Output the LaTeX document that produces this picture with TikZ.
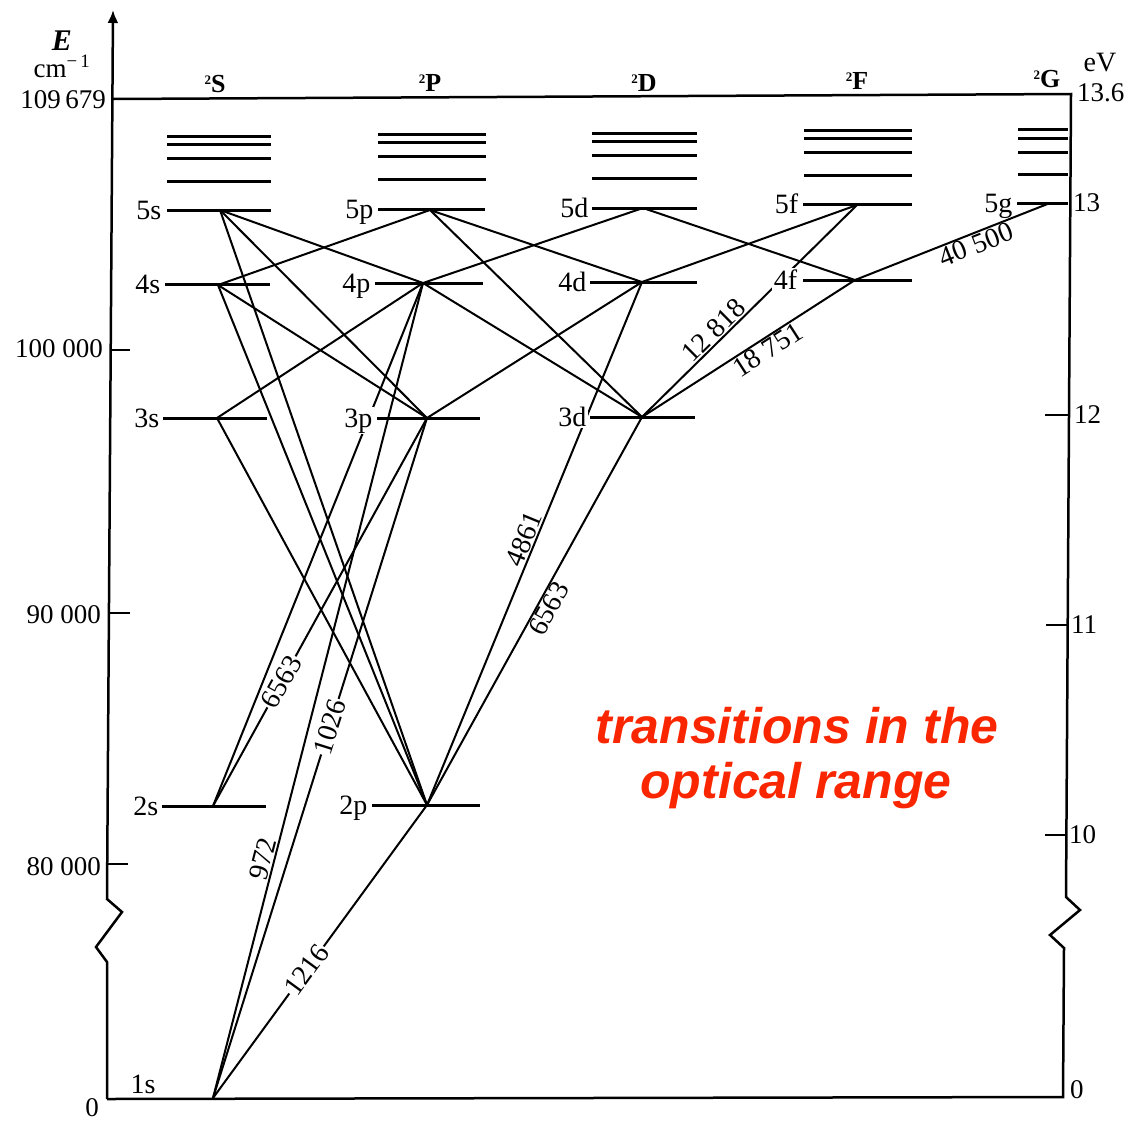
\documentclass[tikz,border=0pt]{standalone}
\usepackage{fontspec}
\setmainfont{Liberation Serif}
\newfontfamily\redfont{Liberation Sans}
\usetikzlibrary{arrows.meta}
\definecolor{redtxt}{RGB}{250,38,0}
\begin{document}
\begin{tikzpicture}[x=1pt,y=-1pt,
  lev/.style={line width=3pt},
  tr/.style={line width=2pt},
  ax/.style={line width=2.5pt, line join=miter},
  tick/.style={line width=2pt},
  lvlab/.style={anchor=base east, font=\fontsize{28}{28}\selectfont, inner sep=1.5pt},
  lvlabw/.style={lvlab, fill=white},
  num/.style={font=\fontsize{27}{27}\selectfont, inner sep=0pt},
  wl/.style={font=\fontsize{28}{28}\selectfont, sloped, inner sep=1pt},
  wlw/.style={wl, fill=white},
  term/.style={anchor=base, font=\bfseries\fontsize{26}{26}\selectfont, inner sep=0pt},
  redlab/.style={anchor=base, font=\redfont\bfseries\itshape\fontsize{50}{50}\selectfont, text=redtxt, inner sep=0pt}
]
\useasboundingbox (0,0) rectangle (1129,1122);
\newcommand{\tsup}{\raisebox{0.62ex}{\fontsize{13}{13}\selectfont 2}}

% ---------- axes and frame ----------
\coordinate (axtop) at (113,10);
\coordinate (axbl) at (107,1099);
\draw[ax,-{Latex[length=13pt,width=11pt]}] (axbl) -- (107,962) -- (96,947) -- (122,912) -- (107,899) -- (axtop);
\draw[ax] (113,99) -- (1071,94) -- (1066,897) -- (1080,910) -- (1050,935) -- (1064,948) -- (1063,1097) -- (axbl);

% left ticks
\draw[tick] (110.7,350) -- (130,350);
\draw[tick] (109,613) -- (130,613);
\draw[tick] (107.6,864) -- (128,864);
% right ticks
\draw[tick] (1045,415) -- (1068,415);
\draw[tick] (1046,625) -- (1067,625);
\draw[tick] (1045,835) -- (1066,835);

% axis labels
\node[anchor=base, font=\bfseries\itshape\fontsize{30}{30}\selectfont, inner sep=0pt] (Elab) at (62,50) {E};
\node[anchor=base, font=\fontsize{27}{27}\selectfont, inner sep=0pt] (cmlab) at (62,77) {cm\textsuperscript{−\,1}};
\node[num, anchor=east] (n109) at (106,100) {109\,679};
\node[num, anchor=east] (n100) at (103,349) {100 000};
\node[num, anchor=east] (n90) at (101,615) {90 000};
\node[num, anchor=east] (n80) at (101,867) {80 000};
\node[num] (n0) at (92,1108) {0};
\node[anchor=base, font=\fontsize{28}{28}\selectfont, inner sep=0pt] (eV) at (1100,71) {eV};
\node[num, anchor=west] (r136) at (1077,93) {13.6};
\node[num, anchor=west] (r13) at (1073,203) {13};
\node[num, anchor=west] (r12) at (1074,415) {12};
\node[num, anchor=west] (r11) at (1071,625) {11};
\node[num, anchor=west] (r10) at (1069,835) {10};
\node[num, anchor=west] (r0) at (1070,1090) {0};

% term labels
\node[term] (tS) at (215,92) {\tsup S};
\node[term] (tP) at (430,91) {\tsup P};
\node[term] (tD) at (644,91) {\tsup D};
\node[term] (tF) at (857,89) {\tsup F};
\node[term] (tG) at (1047,87) {\tsup G};

% ---------- upper (unlabelled) levels ----------
\foreach \y in {136,144,158,181} \draw[lev] (167,\y) -- (271,\y);
\foreach \y in {134,142,156,179} \draw[lev] (378,\y) -- (486,\y);
\foreach \y in {133,141,155,178} \draw[lev] (592,\y) -- (697,\y);
\foreach \y in {130,138,152,175} \draw[lev] (804,\y) -- (912,\y);
\foreach \y in {129,138,152,174} \draw[lev] (1018,\y) -- (1068,\y);

% ---------- labelled levels ----------
\draw[lev] (167,210) -- (271,210);
\draw[lev] (165,284) -- (270,284);
\draw[lev] (163,418) -- (267,418);
\draw[lev] (162,806) -- (266,806);
\draw[lev] (378,209) -- (485,209);
\draw[lev] (375,283) -- (483,283);
\draw[lev] (377,418) -- (480,418);
\draw[lev] (372,805) -- (480,805);
\draw[lev] (592,208) -- (697,208);
\draw[lev] (590,282) -- (697,282);
\draw[lev] (590,417) -- (695,417);
\draw[lev] (803,204) -- (912,204);
\draw[lev] (803,280) -- (912,280);
\draw[lev] (1017,203) -- (1068,203);

% transition points
\coordinate (s5) at (220,210);
\coordinate (s4) at (218,285);
\coordinate (s3) at (217,418);
\coordinate (s2) at (213,806);
\coordinate (s1) at (213,1098);
\coordinate (p5) at (430,210);
\coordinate (p4) at (423,283);
\coordinate (p3) at (427,418);
\coordinate (p2) at (427,805);
\coordinate (d5) at (643,208);
\coordinate (d4) at (642,282);
\coordinate (d3) at (642,417);
\coordinate (f5) at (857,205);
\coordinate (f4) at (855,280);
\coordinate (g5) at (1050,203);

% ---------- transitions ----------
\draw[tr] (s5) -- (p4);
\draw[tr] (s5) -- (p3);
\draw[tr] (s5) -- (p2);
\draw[tr] (s4) -- (p5);
\draw[tr] (s4) -- (p3);
\draw[tr] (s4) -- (p2);
\draw[tr] (s3) -- (p4);
\draw[tr] (s3) -- (p2);
\draw[tr] (s2) -- (p4);
\draw[tr] (s2) -- node[wlw, pos=0.32] (w6563a) {6563} (p3);
\draw[tr] (s1) -- node[wl, above, pos=0.29] (w972) {972} (p4);
\draw[tr] (s1) -- node[wlw, pos=0.546] (w1026) {1026} (p3);
\draw[tr] (s1) -- node[wlw, pos=0.437] (w1216) {1216} (p2);
\draw[tr] (p5) -- (d4);
\draw[tr] (p5) -- (d3);
\draw[tr] (p4) -- (d5);
\draw[tr] (p4) -- (d3);
\draw[tr] (p3) -- (d4);
\draw[tr] (p2) -- node[wl, above, pos=0.5] (w4861) {4861} (d4);
\draw[tr] (p2) -- node[wl, below, pos=0.52] (w6563b) {6563} (d3);
\draw[tr] (d5) -- (f4);
\draw[tr] (d4) -- (f5);
\draw[tr] (d3) -- node[wl, above, pos=0.37] (w12818) {12 818} (f5);
\draw[tr] (d3) -- node[wl, below, pos=0.56] (w18751) {18 751} (f4);
\draw[tr] (f4) -- node[wl, below, pos=0.6] (w40500) {40 500} (g5);

% ---------- level labels ----------
\node[lvlab] (l5s) at (163,219) {5s};
\node[lvlab] (l4s) at (162,293) {4s};
\node[lvlab] (l3s) at (161,427) {3s};
\node[lvlab] (l2s) at (160,815) {2s};
\node[lvlab, anchor=base] (l1s) at (143,1093) {1s};
\node[lvlab] (l5p) at (375,218) {5p};
\node[lvlab] (l4p) at (372,292) {4p};
\node[lvlabw] (l3p) at (374,427) {3p};
\node[lvlab] (l2p) at (369,814) {2p};
\node[lvlab] (l5d) at (590,217) {5d};
\node[lvlab] (l4d) at (588,291) {4d};
\node[lvlabw] (l3d) at (588,426) {3d};
\node[lvlab] (l5f) at (800,213) {5f};
\node[lvlabw] (l4f) at (799,289) {4f};
\node[lvlab] (l5g) at (1014,212) {5g};

% ---------- red annotation ----------
\node[redlab] (red1) at (797,743) {transitions in the};
\node[redlab] (red2) at (796,798) {optical range};
\end{tikzpicture}
\end{document}
